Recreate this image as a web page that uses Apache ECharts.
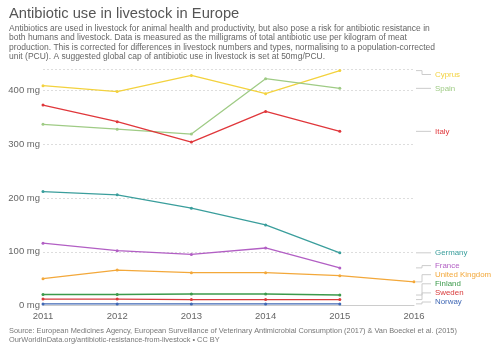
<!DOCTYPE html>
<html><head><meta charset="utf-8">
<script src="https://cdn.jsdelivr.net/npm/echarts@6/dist/echarts.min.js"></script>
<style>html,body{margin:0;padding:0;background:#fff}#c{width:500px;height:353px}</style>
</head><body><div id="c"></div>
<script>
// ---- data ----
const years = [2011, 2012, 2013, 2014, 2015, 2016];
const countries = ['Cyprus', 'Spain', 'Italy', 'Germany', 'France', 'United Kingdom', 'Finland', 'Sweden', 'Norway'];
const cyprus  = [409, 398, 428, 394, 437, null];
const spain   = [337, 328, 319, 422, 404, null];
const italy   = [373, 342, 304, 361, 324, null];
const germany = [212, 206, 181, 150, 98, null];
const france  = [116, 102, 95, 107, 70, null];
const uk      = [50, 66, 61, 61, 55.5, 44];
const finland = [20.5, 20.5, 21.4, 21.4, 19.5, null];
const sweden  = [12, 12, 11, 11, 11, null];
const norway  = [3, 3, 3, 3, 3, null];
const yTicks = [0, 100, 200, 300, 400];
const colors = ['#f3d23e', '#9fcb85', '#e0373b', '#3a9e9c', '#b25fc4', '#f3a83a', '#3c9a4b', '#d83a3a', '#4068b5'];

const values = [cyprus, spain, italy, germany, france, uk, finland, sweden, norway];
const FONT = '"Liberation Sans", Arial, Helvetica, sans-serif';

const chart = echarts.init(document.getElementById('c'), null, {renderer: 'canvas'});
const grid = {left: 43, right: 86, top: 69, bottom: 47.5};

const series = countries.map((name, i) => ({
  name, type: 'line',
  data: years.map((y, j) => values[i][j] == null ? null : [y, values[i][j]]).filter(d => d),
  itemStyle: {color: colors[i]},
  lineStyle: {color: colors[i], width: 1.3},
  symbol: 'circle', symbolSize: 3, showSymbol: true,
  emphasis: {disabled: true}, animation: false
}));

chart.setOption({
  animation: false,
  textStyle: {fontFamily: FONT},
  grid,
  xAxis: {
    type: 'value', min: 2011, max: 2016, interval: 1,
    axisLine: {show: true, lineStyle: {color: '#ccc', width: 1}},
    axisTick: {show: false}, splitLine: {show: false},
    axisLabel: {color: '#666', fontSize: 9.5, fontFamily: FONT, margin: 6, formatter: v => String(v)}
  },
  yAxis: {
    type: 'value', min: 0, max: 440, interval: 100,
    axisLine: {show: false}, axisTick: {show: false},
    axisLabel: {color: '#666', fontSize: 9.5, fontFamily: FONT, margin: 3, showMaxLabel: false,
      formatter: v => yTicks.includes(v) ? v + ' mg' : ''},
    splitLine: {show: true, lineStyle: {color: '#ddd', type: [2, 2], width: 1}}
  },
  series
});

function layoutLabels(items, top, bottom, gap) {
  items.sort((a, b) => a.t - b.t);
  const groups = items.map(it => ({members: [it]}));
  function place(g) {
    const n = g.members.length;
    const mean = g.members.reduce((s, m) => s + m.t, 0) / n;
    let start = mean - (n - 1) * gap / 2;
    start = Math.max(top, Math.min(bottom - (n - 1) * gap, start));
    g.start = start;
  }
  groups.forEach(place);
  let changed = true;
  while (changed) {
    changed = false;
    for (let i = 0; i < groups.length - 1; i++) {
      const a = groups[i], b = groups[i + 1];
      const aEnd = a.start + (a.members.length - 1) * gap;
      if (b.start - aEnd < gap - 0.01) {
        a.members = a.members.concat(b.members);
        groups.splice(i + 1, 1);
        place(a); changed = true; break;
      }
    }
  }
  groups.forEach(g => g.members.forEach((m, i) => { m.y = g.start + i * gap; }));
}

const W = 500, H = 353;
const gridRight = W - grid.right, gridBottom = H - grid.bottom;
const items = countries.map((name, i) => {
  const d = series[i].data[series[i].data.length - 1];
  const p = chart.convertToPixel({gridIndex: 0}, d);
  return {name, color: colors[i], t: p[1]};
});
layoutLabels(items, grid.top + 5.5, gridBottom - 3.5, 9.1);

const graphics = [];
graphics.push({type: 'text', left: 9, top: 6, style: {text: 'Antibiotic use in livestock in Europe', fill: '#555', font: '14.7px ' + FONT}});
graphics.push({type: 'text', left: 9, top: 24, style: {
  text: 'Antibiotics are used in livestock for animal health and productivity, but also pose a risk for antibiotic resistance in\nboth humans and livestock. Data is measured as the milligrams of total antibiotic use per kilogram of meat\nproduction. This is corrected for differences in livestock numbers and types, normalising to a population-corrected\nunit (PCU). A suggested global cap of antibiotic use in livestock is set at 50mg/PCU.',
  fill: '#666', font: '8.5px ' + FONT, lineHeight: 9.3}});
graphics.push({type: 'text', left: 9, top: 326, style: {
  text: 'Source: European Medicines Agency, European Surveillance of Veterinary Antimicrobial Consumption (2017) & Van Boeckel et al. (2015)\nOurWorldInData.org/antibiotic-resistance-from-livestock • CC BY',
  fill: '#777', font: '7.4px ' + FONT, lineHeight: 9}});

items.forEach(it => {
  const x0 = gridRight + 2, xe = 422, x1 = 431;
  const pts = Math.abs(it.y - it.t) < 0.6 ? [[x0, it.t], [x1, it.t]] : [[x0, it.t], [xe, it.t], [xe, it.y], [x1, it.y]];
  graphics.push({type: 'polyline', shape: {points: pts}, style: {stroke: '#ccc', lineWidth: 1, fill: null}, silent: true});
  graphics.push({type: 'text', x: 435, y: it.y, style: {text: it.name, fill: it.color, font: '7.9px ' + FONT, textVerticalAlign: 'middle', verticalAlign: 'middle'}});
});

chart.setOption({graphic: graphics});
</script></body></html>
